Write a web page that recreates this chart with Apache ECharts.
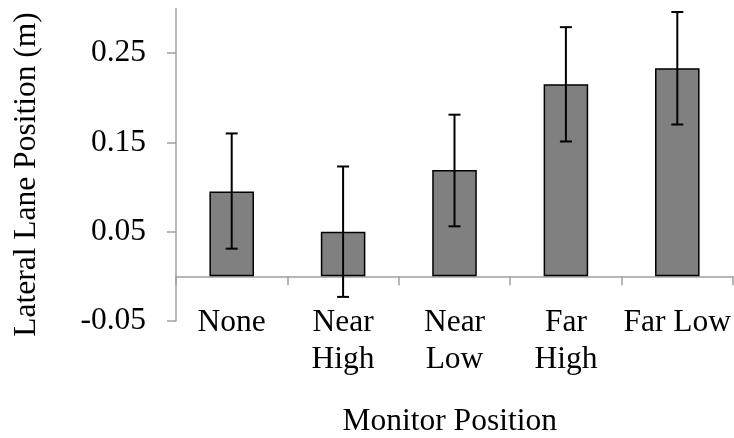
<!DOCTYPE html>
<html>
<head>
<meta charset="utf-8">
<script src="https://cdn.jsdelivr.net/npm/echarts@6/dist/echarts.min.js"></script>
<style>
html,body{margin:0;padding:0;background:#fff;}
#chart{width:734px;height:438px;}
</style>
</head>
<body>
<div id="chart"></div>
<script>
const categories = ['None', 'Near\nHigh', 'Near\nLow', 'Far\nHigh', 'Far Low'];
const means = [0.095, 0.050, 0.119, 0.215, 0.233];
const upper = [0.160, 0.123, 0.181, 0.279, 0.296];
const lower = [0.031, -0.023, 0.056, 0.151, 0.170];
const yTicks = [-0.05, 0.05, 0.15, 0.25];
const yTitle = 'Lateral Lane Position (m)';
const xTitle = 'Monitor Position';

const FONT = '"Liberation Serif", "Times New Roman", serif';
const FS = 31.5;
const AXIS_COLOR = '#a0a0a0';

const chart = echarts.init(document.getElementById('chart'), null, {renderer: 'canvas'});
chart.setOption({
  animation: false,
  backgroundColor: '#fff',
  grid: {left: 176, right: 1, top: 8.4, bottom: 117, containLabel: false, outerBoundsMode: 'none'},
  xAxis: {
    type: 'category',
    data: categories,
    boundaryGap: true,
    axisLine: {onZero: true, lineStyle: {color: AXIS_COLOR, width: 1.5}},
    axisTick: {show: true, inside: false, length: 9, alignWithLabel: false, lineStyle: {color: AXIS_COLOR, width: 1.5}},
    axisLabel: {margin: -17, color: '#000', fontFamily: FONT, fontSize: FS, lineHeight: 37, interval: 0},
    splitLine: {show: false}
  },
  yAxis: {
    type: 'value',
    min: -0.05,
    max: 0.30,
    interval: 0.1,
    axisLine: {show: true, onZero: false, lineStyle: {color: AXIS_COLOR, width: 1.5}},
    axisTick: {show: true, length: 9, customValues: yTicks, lineStyle: {color: AXIS_COLOR, width: 1.5}},
    axisLabel: {margin: 30, color: '#000', fontFamily: FONT, fontSize: FS, customValues: yTicks,
      formatter: v => v.toFixed(2)},
    splitLine: {show: false}
  },
  series: [
    {
      type: 'bar',
      data: means,
      barWidth: '40%',
      itemStyle: {color: '#808080', borderColor: '#000', borderWidth: 1.5},
      z: 2
    },
    {
      type: 'custom',
      data: categories.map((c, i) => [i, upper[i], lower[i]]),
      z: 5,
      renderItem: function (params, api) {
        const i = api.value(0);
        const hi = api.coord([i, api.value(1)]);
        const lo = api.coord([i, api.value(2)]);
        const half = 6;
        const style = {stroke: '#000', lineWidth: 2};
        return {
          type: 'group',
          children: [
            {type: 'line', shape: {x1: hi[0], y1: hi[1], x2: lo[0], y2: lo[1]}, style: style},
            {type: 'line', shape: {x1: hi[0] - half, y1: hi[1], x2: hi[0] + half, y2: hi[1]}, style: style},
            {type: 'line', shape: {x1: lo[0] - half, y1: lo[1], x2: lo[0] + half, y2: lo[1]}, style: style}
          ]
        };
      }
    }
  ],
  graphic: [
    {
      type: 'text',
      x: 26.3, y: 174.5,
      rotation: Math.PI / 2,
      style: {text: yTitle, font: FS + 'px ' + FONT, fill: '#000', align: 'center', verticalAlign: 'middle'}
    },
    {
      type: 'text',
      x: 449.7, y: 421.3,
      style: {text: xTitle, font: FS + 'px ' + FONT, fill: '#000', align: 'center', verticalAlign: 'middle'}
    }
  ]
});
</script>
</body>
</html>
